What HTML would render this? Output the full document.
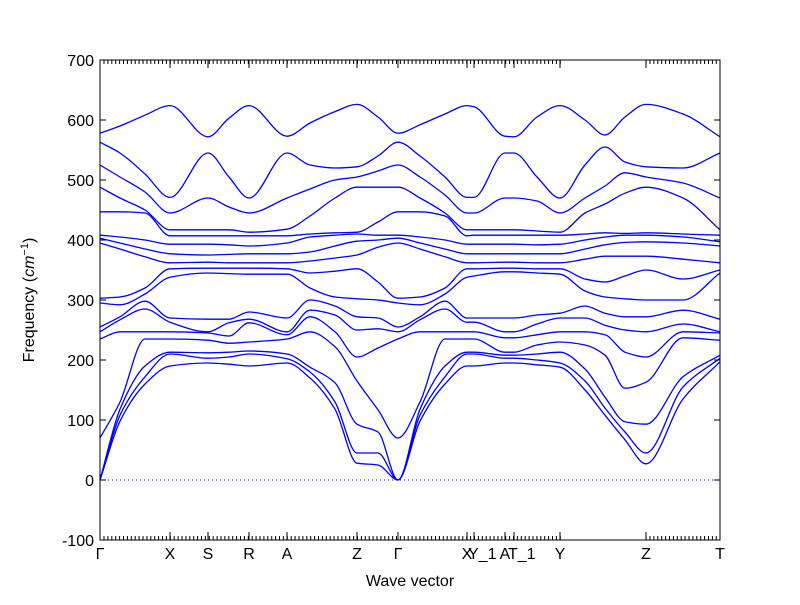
<!DOCTYPE html>
<html><head><meta charset="utf-8"><style>
html,body{margin:0;padding:0;background:#fff;}
svg text{font-family:"Liberation Sans","DejaVu Sans",sans-serif;}
</style></head><body>
<svg id="chart" width="800" height="600" viewBox="0 0 800 600" xmlns="http://www.w3.org/2000/svg">
<rect x="0" y="0" width="800" height="600" fill="#fff"/>
<g id="bands"></g>
<g id="axes"></g>
<text x="410" y="586" font-size="16" text-anchor="middle">Wave vector</text>
<text transform="translate(34,300) rotate(-90)" font-size="16" text-anchor="middle">Frequency (<tspan font-style="italic">cm</tspan><tspan font-size="11" dy="-6">−1</tspan><tspan dy="6">)</tspan></text>
</svg>
<script>
const kpath = [0,0.2,0.45,0.7,1.08,1.29,1.49,1.87,2.1,2.35,2.57,2.78,2.98,3.2,3.45,3.67,3.74,4.05,4.14,4.37,4.6,4.85,5.05,5.25,5.46,5.83,6.2];
const symLabels = ["Γ","X","S","R","A","Z","Γ","X","Y_1","A","T_1","Y","Z","T"];
const symPos = [0,0.7,1.08,1.49,1.87,2.57,2.98,3.67,3.74,4.05,4.14,4.6,5.46,6.2];
const yTicks = [-100,0,100,200,300,400,500,600,700];
const b1 = [578,590,608,624,572,603,624,573,595,614,626,605,578,592,610,624,622,573,572,605,624,600,575,605,626,610,572];
const b2 = [563,545,510,471,545,505,470,545,525,520,522,540,563,540,505,471,471,545,545,505,470,525,555,530,522,520,545];
const b3 = [525,505,480,445,470,455,445,470,485,500,505,515,525,505,475,445,445,470,470,465,445,470,490,512,505,495,470];
const b4 = [488,470,450,417,417,417,413,418,440,470,488,488,488,470,445,417,417,417,417,415,413,445,460,478,488,470,417];
const b5 = [447,447,445,407,407,407,407,407,410,412,413,430,447,447,440,407,408,408,408,408,408,410,412,411,412,410,408];
const b6 = [408,405,400,393,393,392,390,395,405,408,410,408,408,405,400,393,393,393,393,392,393,400,405,408,408,405,397];
const b7 = [403,395,385,377,375,376,377,377,380,390,398,400,403,395,385,377,377,377,377,377,377,385,392,396,397,395,390];
const b8 = [395,385,372,362,363,362,362,362,365,370,375,388,395,385,372,362,362,363,363,362,362,368,373,373,373,368,362];
const b9 = [303,305,320,352,353,353,353,352,345,348,352,330,303,305,320,352,352,353,353,352,352,335,330,340,350,335,350];
const b10 = [295,292,310,338,345,344,343,343,320,305,302,300,295,292,310,338,340,347,347,345,343,315,305,302,300,300,345];
const b11 = [255,272,298,270,268,268,280,270,300,290,272,270,255,272,298,270,270,270,270,275,278,290,278,272,272,283,268];
const b12 = [247,267,285,263,247,262,268,247,283,275,250,252,247,267,285,263,263,247,247,260,270,270,258,250,247,260,247];
const b13 = [235,247,247,247,245,240,262,242,272,247,205,220,235,247,247,247,247,237,237,242,247,247,242,213,205,247,245];
const b14 = [70,130,235,235,233,228,230,235,247,222,165,117,70,130,235,235,235,213,213,225,230,225,208,153,163,237,233];
const b15 = [0,118,190,213,212,213,215,210,188,162,93,80,0,118,190,213,213,208,208,210,213,185,138,97,93,172,208];
const b16 = [0,108,172,210,203,205,210,202,180,130,45,45,0,108,172,210,210,203,203,200,195,165,120,80,45,155,203];
const b17 = [0,98,160,190,195,193,190,195,170,118,28,25,0,98,160,190,190,195,195,192,188,150,108,67,27,135,197];
const bands = [b1,b2,b3,b4,b5,b6,b7,b8,b9,b10,b11,b12,b13,b14,b15,b16,b17];

const L=100,R=720,T=60,B=540;
const kMin=kpath[0], kMax=kpath[kpath.length-1];
function xS(k){return L+(k-kMin)/(kMax-kMin)*(R-L);}
function yS(v){return B-(v-(-100))/(800)*(B-T);}
const NS="http://www.w3.org/2000/svg";

function monoPath(xs,ys){
  const n=xs.length, d=[], m=[];
  for(let i=0;i<n-1;i++) d.push((ys[i+1]-ys[i])/(xs[i+1]-xs[i]));
  m[0]=d[0]; m[n-1]=d[n-2];
  for(let i=1;i<n-1;i++){ if(d[i-1]*d[i]<=0) m[i]=0; else { const w1=2*(xs[i+1]-xs[i])+(xs[i]-xs[i-1]), w2=(xs[i+1]-xs[i])+2*(xs[i]-xs[i-1]); m[i]=(w1+w2)/(w1/d[i-1]+w2/d[i]); } }
  let p="M"+xs[0].toFixed(2)+","+ys[0].toFixed(2);
  for(let i=0;i<n-1;i++){const h=(xs[i+1]-xs[i])/3;
    p+=" C"+(xs[i]+h).toFixed(2)+","+(ys[i]+m[i]*h).toFixed(2)+" "+(xs[i+1]-h).toFixed(2)+","+(ys[i+1]-m[i+1]*h).toFixed(2)+" "+xs[i+1].toFixed(2)+","+ys[i+1].toFixed(2);}
  return p;
}
const gB=document.getElementById('bands');
const zl=document.createElementNS(NS,'line');
zl.setAttribute('x1',L);zl.setAttribute('x2',R);zl.setAttribute('y1',yS(0));zl.setAttribute('y2',yS(0));
zl.setAttribute('stroke','#0000ff');zl.setAttribute('stroke-width','1');zl.setAttribute('stroke-dasharray','1,3');


gB.appendChild(zl);
bands.forEach((b,i)=>{
  const xs=kpath.map(xS), ys=b.map(yS);
  const p=document.createElementNS(NS,'path');
  p.setAttribute('d',monoPath(xs,ys));
  p.setAttribute('fill','none');p.setAttribute('stroke','#0000ff');p.setAttribute('stroke-width','1.3');
  
  
  gB.appendChild(p);
});
const gA=document.getElementById('axes');
function ln(x1,y1,x2,y2,name){const e=document.createElementNS(NS,'line');e.setAttribute('x1',x1);e.setAttribute('y1',y1);e.setAttribute('x2',x2);e.setAttribute('y2',y2);e.setAttribute('stroke','#000');e.setAttribute('stroke-width','1');
 
 
 gA.appendChild(e);}
// minor q-point ticks
for(let x=L+4;x<R;x+=3.9){ if(x>562&&x<644) continue; ln(x,T,x,T+4,'minor-tick-top'); ln(x,B,x,B-4,'minor-tick-bottom'); }
symPos.forEach((k,i)=>{const x=xS(k); ln(x,B,x,B-8,'x-tick');ln(x,T,x,T+8,'x-tick-top');
  const t=document.createElementNS(NS,'text');t.setAttribute('x',x);t.setAttribute('y',559);t.setAttribute('font-size','16');t.setAttribute('text-anchor',i===8||i===10?'start':'middle');
  if(i===8||i===10) t.setAttribute('x',x-6);
  t.textContent=symLabels[i];
  
  
  gA.appendChild(t);});
yTicks.forEach(v=>{const y=yS(v); ln(L,y,L+6,y,'y-tick');ln(R,y,R-6,y,'y-tick-right');
  const t=document.createElementNS(NS,'text');t.setAttribute('x',94);t.setAttribute('y',y+6);t.setAttribute('font-size','16');t.setAttribute('text-anchor','end');t.textContent=v;
  
  
  gA.appendChild(t);});
const fr=document.createElementNS(NS,'rect');fr.setAttribute('x',L);fr.setAttribute('y',T);fr.setAttribute('width',R-L);fr.setAttribute('height',B-T);fr.setAttribute('fill','none');fr.setAttribute('stroke','#000');fr.setAttribute('stroke-width','1');


gA.appendChild(fr);
</script>
</body></html>
